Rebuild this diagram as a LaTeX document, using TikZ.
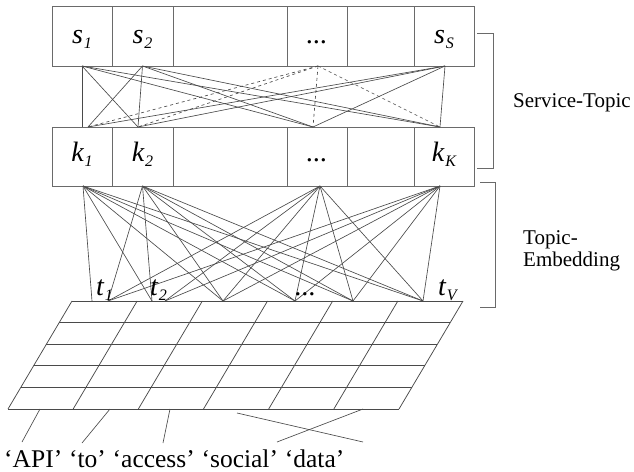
\documentclass[tikz,border=0pt]{standalone}
\usepackage{fontspec}
\setmainfont{Liberation Serif}
\definecolor{boxc}{HTML}{6A6A6A}
\definecolor{linec}{HTML}{4A4A4A}
\newcommand\lbl{\fontsize{28bp}{30bp}\selectfont\itshape}
\newcommand\subidx[1]{\kern1bp\raisebox{-5bp}{\fontsize{16bp}{16bp}\selectfont\itshape #1}}
\begin{document}
\begin{tikzpicture}[x=1bp,y=-1bp,
  box/.style={draw=boxc, line width=0.9bp, inner sep=0pt, outer sep=0pt,
    anchor=north west, font=\lbl},
  srow/.style={box, minimum height=60bp, text height=16bp, text depth=0pt},
  krow/.style={box, minimum height=59bp, text height=11bp, text depth=0pt},
  link/.style={draw=linec, line width=0.65bp},
  dlink/.style={link, dash pattern=on 3bp off 3bp},
  gridline/.style={draw=linec, line width=0.75bp},
  brace/.style={draw=boxc, line width=0.8bp},
  tlabel/.style={anchor=base west, inner sep=0pt, font=\lbl},
  word/.style={anchor=base west, inner sep=0pt, text depth=0pt,
    font=\fontsize{25.5bp}{27bp}\selectfont},
  side/.style={anchor=base west, inner sep=0pt, font=\fontsize{21bp}{22bp}\selectfont}]
\useasboundingbox (0,0) rectangle (634,472);

% service row
\node[srow, minimum width=60bp]  (s1)  at (52,6)  {s\subidx{1}};
\node[srow, minimum width=61bp]  (s2)  at (112,6) {s\subidx{2}};
\node[srow, minimum width=114bp] (sg1) at (173,6) {};
\node[srow, minimum width=60bp]  (sd)  at (287,6) {...};
\node[srow, minimum width=67bp]  (sg2) at (347,6) {};
\node[srow, minimum width=60bp]  (sS)  at (414,6) {s\subidx{S}};

% topic row
\node[krow, minimum width=60bp]  (k1)  at (52,127)  {k\subidx{1}};
\node[krow, minimum width=61bp]  (k2)  at (112,127) {k\subidx{2}};
\node[krow, minimum width=114bp] (kg1) at (173,127) {};
\node[krow, minimum width=60bp]  (kd)  at (287,127) {...};
\node[krow, minimum width=67bp]  (kg2) at (347,127) {};
\node[krow, minimum width=60bp]  (kK)  at (414,127) {k\subidx{K}};

% attachment points on the rows
\coordinate (s1b) at (s1.south);
\coordinate (s2b) at (s2.south);
\coordinate (sdb) at ([xshift=1bp]sd.south);
\coordinate (sSb) at ([xshift=1bp]sS.south);
\coordinate (k1t) at ([xshift=6bp]k1.north);
\coordinate (k2t) at ([xshift=-4.5bp]k2.north);
\coordinate (kdt) at ([xshift=-4bp]kd.north);
\coordinate (kKt) at ([xshift=-4bp]kK.north);
\coordinate (k1b) at ([xshift=1bp]k1.south);
\coordinate (k2b) at (k2.south);
\coordinate (kdb) at ([xshift=3bp]kd.south);
\coordinate (kKb) at ([xshift=-4bp]kK.south);

% word points on the embedding grid
\coordinate (t1a) at (92,301);
\coordinate (t1b) at (108,301);
\coordinate (t2a) at (152,301);
\coordinate (t2b) at (165,301);
\coordinate (t3)  at (223,301);
\coordinate (t4)  at (295,301);
\coordinate (t5)  at (353,301);
\coordinate (t6)  at (423,301);

% service-topic links
\draw[link] (s1b) -- (s1b |- k1.north);
\foreach \a/\b in {s1b/k2t, s1b/kdt, s1b/kKt,
                   s2b/k1t, s2b/k2t, s2b/kdt, s2b/kKt,
                   sSb/k1t, sSb/k2t, sSb/kdt, sSb/kKt}
  \draw[link] (\a) -- (\b);
\foreach \b in {k1t, k2t, kdt, kKt}
  \draw[dlink] (sdb) -- (\b);

% topic-embedding links
\foreach \b in {t1a, t2a, t3, t4, t5, t6} \draw[link] (k1b) -- (\b);
\foreach \b in {t1b, t2a, t3, t4, t5, t6} \draw[link] (k2b) -- (\b);
\foreach \b in {t1b, t2b, t3, t4, t5, t6} \draw[link] (kdb) -- (\b);
\foreach \b in {t1b, t2b, t3, t4, t5, t6} \draw[link] (kKb) -- (\b);

% word labels above the grid
\node[tlabel] (lt1) at (96,296)  {t\subidx{1}};
\node[tlabel] (lt2) at (150,296) {t\subidx{2}};
\node[tlabel] (ltd) at (295,296) {...};
\node[tlabel] (ltV) at (438,296) {t\subidx{V}};

% embedding grid (slanted)
\foreach \i in {0,...,6}
  \draw[gridline] ({72+65.17*\i},301) -- ({8+65.17*\i},409);
\foreach \j in {0,...,5}
  \draw[gridline] ({72-12.8*\j},{301+21.6*\j}) -- ({463-12.8*\j},{301+21.6*\j});

% input words
\node[word] (wapi) at (4,467) {‘API’};
\node[word] (wto)  at ([xshift=6.4bp]wapi.base east) {‘to’};
\node[word] (wacc) at ([xshift=6.4bp]wto.base east)  {‘access’};
\node[word] (wsoc) at ([xshift=6.4bp]wacc.base east) {‘social’};
\node[word] (wdat) at ([xshift=6.4bp]wsoc.base east) {‘data’};

\coordinate (c1) at (40,409);  \coordinate (e1) at (22,442);
\coordinate (c2) at (110,409); \coordinate (e2) at (82,443);
\coordinate (c3) at (170,409); \coordinate (e3) at (163,443);
\coordinate (c4) at (237,413); \coordinate (e4) at (363,442);
\coordinate (c5) at (363,409); \coordinate (e5) at (277,442);
\foreach \i in {1,...,5} \draw[link] (c\i) -- (e\i);

% layer brackets
\draw[brace] (477,33) -- (493,33) -- (493,168) -- (477,168);
\draw[brace] (480,182) -- (495,182) -- (495,307) -- (480,307);
\node[side] (lst) at (513,108) {Service-Topic};
\node[side] (lte1) at (523,245) {Topic-};
\node[side] (lte2) at (523,267) {Embedding};
\end{tikzpicture}
\end{document}
